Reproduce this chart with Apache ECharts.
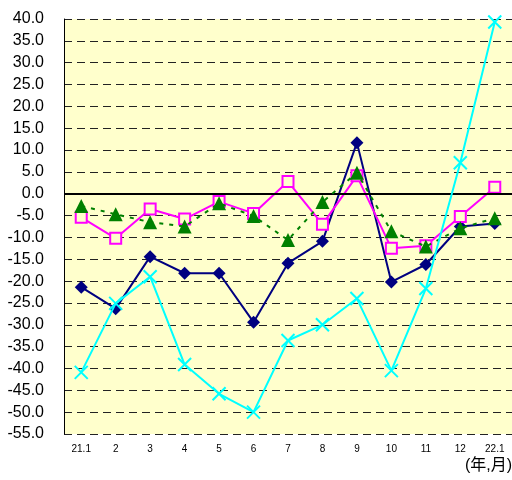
<!DOCTYPE html>
<html>
<head>
<meta charset="utf-8">
<script src="https://cdn.jsdelivr.net/npm/echarts@6/dist/echarts.min.js"></script>
<style>
  html, body { margin: 0; padding: 0; background: #fff; }
  #chart { width: 512px; height: 480px; }
</style>
</head>
<body>
<div id="chart"></div>
<script>
  // 横軸（年,月）
  const months = ['21.1', '2', '3', '4', '5', '6', '7', '8', '9', '10', '11', '12', '22.1']
  // 各系列の値
  const navyValues = [-21.4, -26.3, -14.4, -18.2, -18.2, -29.4, -15.9, -10.9, 11.7, -20.2, -16.2, -7.5, -6.8]
  const greenValues = [-2.8, -4.7, -6.5, -7.5, -2.2, -5.1, -10.6, -1.9, 4.8, -8.6, -12.1, -7.9, -5.6]
  const magentaValues = [-5.4, -10.2, -3.5, -5.8, -1.8, -4.5, 2.8, -7.0, 4.1, -12.5, -11.9, -5.2, 1.5]
  const cyanValues = [-40.9, -25.1, -19.0, -39.1, -45.8, -50.0, -33.6, -30.0, -24.0, -40.5, -21.7, 7.1, 39.3]
  const yMin = -55
  const yMax = 40
  const yStep = 5

  const chart = echarts.init(document.getElementById('chart'))
  const font = "'Liberation Sans', Arial, sans-serif"

  const option = {
    animation: false,
    textStyle: { fontFamily: font },
    grid: {
      left: 64,
      right: 0,
      top: 19,
      bottom: 46,
      show: true,
      backgroundColor: '#FFFFCC',
      borderWidth: 0,
    },
    xAxis: {
      type: 'category',
      data: months,
      boundaryGap: true,
      axisLine: { show: false },
      axisTick: { show: false },
      axisLabel: { color: '#000', fontSize: 10, margin: 10, fontFamily: font },
    },
    yAxis: {
      type: 'value',
      min: yMin,
      max: yMax,
      interval: yStep,
      axisLine: { show: true, lineStyle: { color: '#000', width: 1 } },
      axisTick: { show: false },
      axisLabel: {
        color: '#000',
        fontSize: 16,
        margin: 20,
        fontFamily: font,
        formatter: (v) => v.toFixed(1),
      },
      splitLine: {
        show: true,
        lineStyle: { color: '#222', width: 1, type: [8, 5] },
      },
    },
    graphic: [
      {
        type: 'text',
        right: 0,
        top: 458,
        style: {
          text: '(年,月)',
          fontSize: 16,
          fill: '#000',
          fontFamily: "'Liberation Sans', 'Noto Sans CJK JP', sans-serif",
        },
      },
    ],
    series: [
      {
        name: 'navy',
        type: 'line',
        data: navyValues,
        symbol: 'diamond',
        symbolSize: 13,
        showAllSymbol: true,
        lineStyle: { color: '#000080', width: 2 },
        itemStyle: { color: '#000080' },
        markLine: {
          silent: true,
          symbol: 'none',
          label: { show: false },
          lineStyle: { color: '#000', width: 2, type: 'solid' },
          data: [{ yAxis: 0 }],
        },
        z: 3,
      },
      {
        name: 'magenta',
        type: 'line',
        data: magentaValues,
        symbol: 'rect',
        symbolSize: 11,
        showAllSymbol: true,
        lineStyle: { color: '#FF00FF', width: 2 },
        itemStyle: { color: '#FFFFCC', borderColor: '#FF00FF', borderWidth: 2 },
        z: 4,
      },
      {
        name: 'green',
        type: 'line',
        data: greenValues,
        symbol: 'triangle',
        symbolSize: 14,
        showAllSymbol: true,
        lineStyle: { color: '#008000', width: 2, type: [4, 6] },
        itemStyle: { color: '#008000' },
        z: 5,
      },
      {
        name: 'cyan',
        type: 'line',
        data: cyanValues,
        symbol: 'path://M0,0L10,10M10,0L0,10',
        symbolSize: 13,
        showAllSymbol: true,
        lineStyle: { color: '#00FFFF', width: 2 },
        itemStyle: { color: 'none', borderColor: '#00FFFF', borderWidth: 2 },
        z: 6,
      },
    ],
  }
  chart.setOption(option)
</script>
</body>
</html>
